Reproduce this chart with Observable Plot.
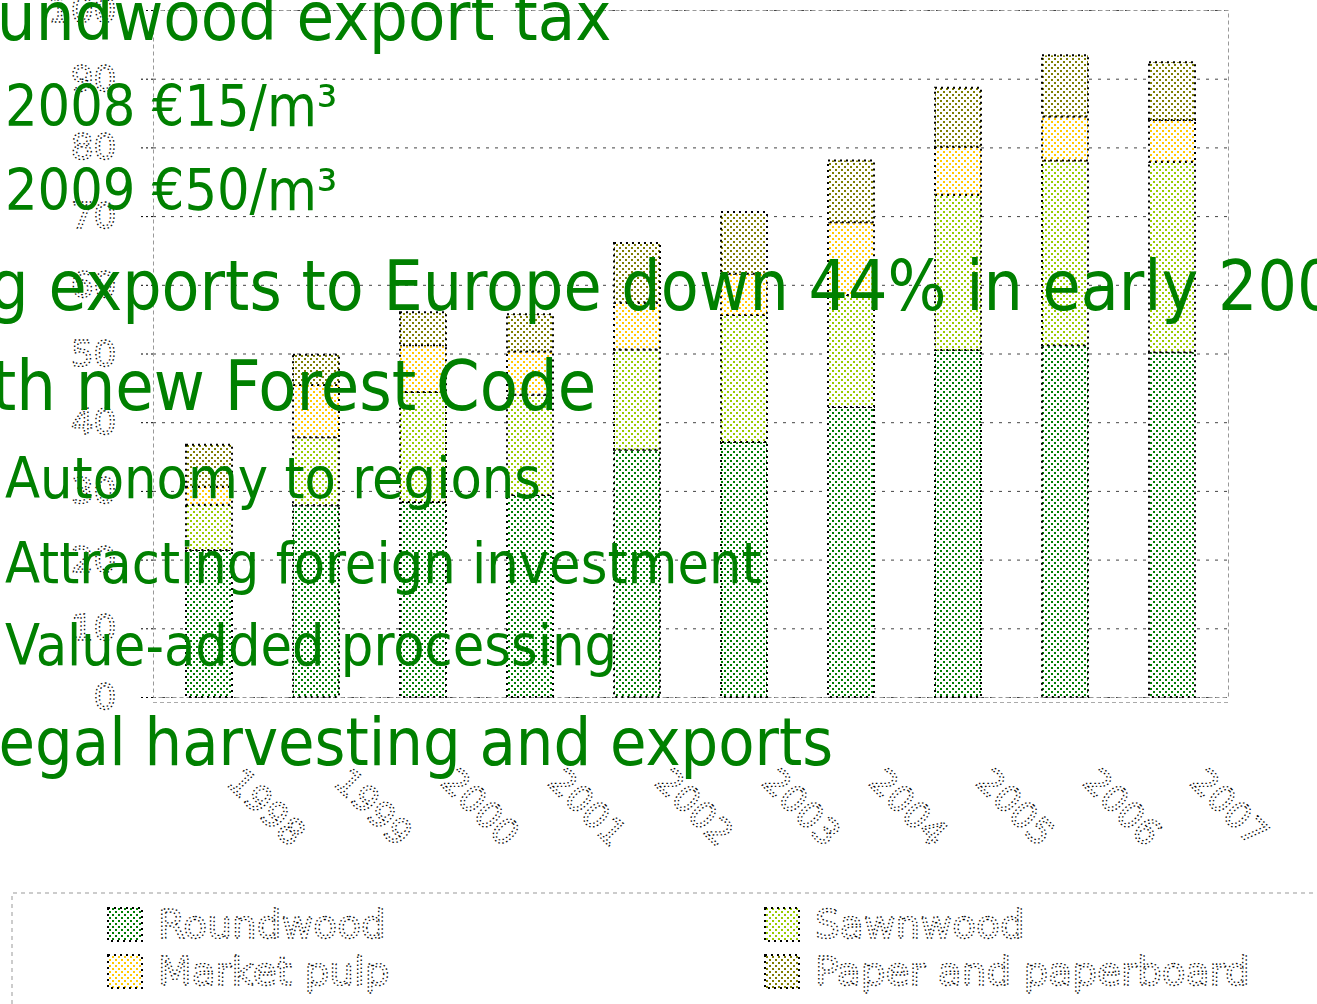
<!DOCTYPE html>
<html><head><meta charset="utf-8">
<script src="https://cdn.jsdelivr.net/npm/d3@7"></script>
<script src="https://cdn.jsdelivr.net/npm/@observablehq/plot@0.6"></script>
<style>
body{margin:0;background:#fff;width:1317px;height:1004px;overflow:hidden;position:relative;font-family:"DejaVu Sans";}
#chart{position:absolute;left:0;top:0;}
#legend{position:absolute;left:0;top:880px;}
#overlay{position:absolute;left:0;top:0;pointer-events:none;}
#overlay text{font-family:"DejaVu Sans Condensed","DejaVu Sans";font-stretch:condensed;}
#defs{position:absolute;left:0;top:0;}
.dotted{fill:#fff;stroke:#000;stroke-width:1.3;stroke-dasharray:1.5 2.5;}
#chart g[aria-label="y-axis tick label"] text,
#chart g[aria-label="text"] text{fill:#fff;stroke:#000;stroke-width:1.3;stroke-dasharray:1.5 2.5;}
#chart g[aria-label="y-axis tick"]{stroke-dasharray:2 3;}
</style></head><body>
<svg id="defs" width="0" height="0"></svg>
<div id="chart"></div>
<svg id="legend" width="1317" height="124"></svg>
<svg id="overlay" width="1317" height="1004"></svg>
<script>
const years = ["1998","1999","2000","2001","2002","2003","2004","2005","2006","2007"];
const seriesNames = ["Roundwood","Sawnwood","Market pulp","Paper and paperboard"];
const roundwood = [21.4,27.9,28.4,29.4,36.0,37.1,42.2,50.5,51.2,50.2];
const sawnwood  = [6.6,9.9,16.0,14.6,14.6,18.5,16.3,22.6,26.9,27.7];
const marketPulp= [2.6,7.6,6.8,6.3,6.8,6.0,10.6,7.0,6.4,6.1];
const paper     = [6.1,4.4,4.8,5.4,8.7,9.0,9.0,8.6,8.9,8.4];
const seriesColors = ["#008000","#99cc00","#ffcc00","#808000"];
const yTicks = [0,10,20,30,40,50,60,70,80,90,100];
const mainBullets = ["Roundwood export tax","Log exports to Europe down 44% in early 2008","With new Forest Code","Illegal harvesting and exports"];
const subBullets = ["2008 €15/m³","2009 €50/m³","Autonomy to regions","Attracting foreign investment","Value-added processing"];

// patterns
const defs = d3.select("#defs").append("defs");
seriesColors.forEach((c,i)=>{
  const p = defs.append("pattern").attr("id","pat"+i).attr("patternUnits","userSpaceOnUse").attr("width",6).attr("height",6);
  p.append("rect").attr("width",6).attr("height",6).attr("fill","#fff");
  p.append("rect").attr("x",1).attr("y",1).attr("width",2).attr("height",2).attr("fill",c);
  p.append("rect").attr("x",4).attr("y",4).attr("width",2).attr("height",2).attr("fill",c);
});

const values = [roundwood, sawnwood, marketPulp, paper];
const data = [];
years.forEach((yr,i)=>seriesNames.forEach((s,j)=>data.push({year:yr, series:s, value:values[j][i]})));

const plot = Plot.plot({
  width:1317, height:880, marginTop:10, marginLeft:153, marginRight:89, marginBottom:183,
  style:{fontFamily:"DejaVu Sans", fontSize:"36px", background:"transparent", overflow:"visible"},
  x:{domain:years, paddingInner:0.57, paddingOuter:0.285, axis:null},
  y:{domain:[0,100], axis:null},
  color:{domain:seriesNames, range:seriesNames.map((s,i)=>`url(#pat${i})`)},
  marks:[
    Plot.gridY(yTicks, {stroke:"#444", strokeOpacity:1, strokeDasharray:"3 6"}),
    Plot.frame({stroke:"#999", strokeDasharray:"4 3"}),
    Plot.ruleY([0], {dy:5, stroke:"#aaa", strokeDasharray:"4 3"}),
    Plot.barY(data, Plot.stackY({x:"year", y:"value", z:"series", fill:"series", stroke:"#000", strokeWidth:2, strokeDasharray:"2 4"})),
    Plot.axisY(yTicks, {tickSize:13, tickPadding:24, fontSize:36, label:null}),
    Plot.text(years, {x:d=>d, frameAnchor:"bottom", rotate:45, textAnchor:"start", lineAnchor:"middle", dx:24, dy:78, fontSize:36})
  ]
});
document.getElementById("chart").appendChild(plot);

// legend
const lg = d3.select("#legend");
lg.append("path").attr("d","M12,124V13H1317").attr("fill","none").attr("stroke","#999").attr("stroke-dasharray","4 4");
const legendPos = [[108,28],[765,28],[108,75],[765,75]];
seriesNames.forEach((s,i)=>{
  const [x,y] = legendPos[i];
  lg.append("rect").attr("x",x).attr("y",y).attr("width",34).attr("height",33)
    .attr("fill",`url(#pat${i})`).attr("stroke","#000").attr("stroke-width",2).attr("stroke-dasharray","2 4");
  lg.append("text").attr("class","dotted").attr("x",x+50).attr("y",y+30)
    .attr("font-family","DejaVu Sans").attr("font-size",39).text(s);
});

// overlay bullets
const ov = d3.select("#overlay");
const mainPos = [[-80,40,68],[-82,310,69],[-86,410,69.5],[-52,765,66]];
mainBullets.forEach((t,i)=>{
  const [x,y,fs] = mainPos[i];
  ov.append("text").attr("x",x).attr("y",y).attr("font-size",fs).attr("fill","#008000").text(t);
});
const subY = [126,210,498,583,665];
subBullets.forEach((t,i)=>{
  ov.append("text").attr("x",5).attr("y",subY[i]).attr("font-size",57).attr("fill","#008000").text(t);
});
</script>
</body></html>
